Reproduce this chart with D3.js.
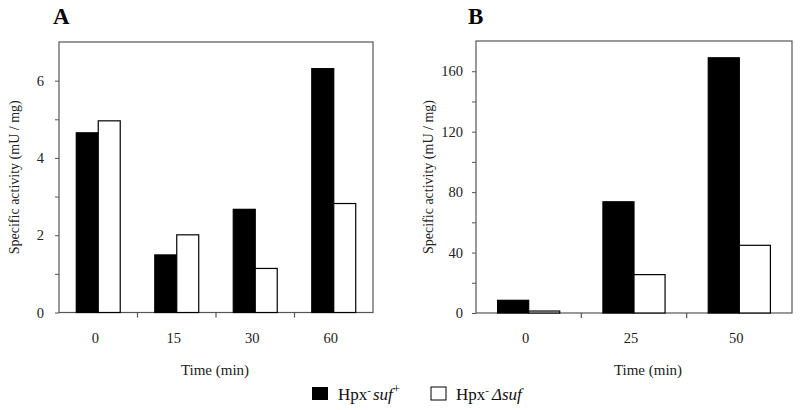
<!DOCTYPE html>
<html><head><meta charset="utf-8">
<script src="https://cdn.jsdelivr.net/npm/d3@7/dist/d3.min.js"></script>
<style>
body{margin:0;background:#fff;}
svg{display:block;font-family:"Liberation Serif","Times New Roman",serif;}
</style></head><body>
<svg id="chart" width="800" height="410"></svg>
<script>
// ---- data ----
const timesA = ["0", "15", "30", "60"];
const sufPlusA = [4.65, 1.49, 2.67, 6.31];
const deltaSufA = [4.96, 2.01, 1.14, 2.82];
const yMajorA = [0, 2, 4, 6];
const yMinorA = [1, 3, 5];

const timesB = ["0", "25", "50"];
const sufPlusB = [8.4, 73.6, 168.9];
const deltaSufB = [1.3, 25.4, 44.8];
const yMajorB = [0, 40, 80, 120, 160];
const yMinorB = [20, 60, 100, 140];

const seriesNames = ["suf+", "Δsuf"];

const svg = d3.select("#chart");

function panel(opts) {
  const {left, right, top, bottom, cats, s1, s2, yMax, major, minor, letter, letterX, titleX, yTitleX, labelGap, barFrac} = opts;
  const g = svg.append("g");
  const x = d3.scaleBand().domain(cats).range([left, right]).paddingInner(0).paddingOuter(0);
  const y = d3.scaleLinear().domain([0, yMax]).range([bottom, top]);
  const bw = x.bandwidth() * barFrac / 2;
  const sub = d3.scaleBand().domain(seriesNames).range([0, bw * 2]);

  // frame
  g.append("rect").attr("x", left).attr("y", top).attr("width", right - left).attr("height", bottom - top)
    .attr("fill", "none").attr("stroke", "#555").attr("stroke-width", 1.2);

  // bars
  cats.forEach((c, i) => {
    const cx = x(c) + x.bandwidth() / 2 - bw;
    [[s1[i], "#000"], [s2[i], "#fff"]].forEach(([v, f], k) => {
      g.append("rect")
        .attr("x", cx + sub(seriesNames[k]))
        .attr("y", y(v))
        .attr("width", sub.bandwidth())
        .attr("height", bottom - y(v))
        .attr("fill", f).attr("stroke", "#000").attr("stroke-width", 1.2);
    });
  });

  // y axis
  const ya = g.append("g").attr("transform", `translate(${left},0)`)
    .call(d3.axisLeft(y).tickValues(major).tickSize(4).tickPadding(labelGap).tickFormat(d3.format("d")));
  ya.select(".domain").remove();
  ya.selectAll("line").attr("stroke", "#555");
  ya.selectAll("text").attr("font-size", 14.5).attr("fill", "#222").style("font-family", "Liberation Serif");
  const ym = g.append("g").attr("transform", `translate(${left},0)`)
    .call(d3.axisLeft(y).tickValues(minor).tickSize(4).tickFormat(""));
  ym.select(".domain").remove();
  ym.selectAll("line").attr("stroke", "#555");

  // x axis: ticks at internal band boundaries
  const bounds = cats.slice(1).map(c => x(c));
  g.selectAll(".xt").data(bounds).enter().append("line")
    .attr("x1", d => d).attr("x2", d => d).attr("y1", bottom).attr("y2", bottom + 5)
    .attr("stroke", "#555").attr("stroke-width", 1.2);
  g.selectAll(".xl").data(cats).enter().append("text")
    .attr("x", d => x(d) + x.bandwidth() / 2 - 3).attr("y", bottom + 30)
    .attr("text-anchor", "middle").attr("font-size", 14.5).attr("fill", "#222").text(d => d);

  // titles
  g.append("text").attr("x", titleX).attr("y", bottom + 62).attr("text-anchor", "middle")
    .attr("font-size", 15).attr("fill", "#222").text("Time (min)");
  g.append("text").attr("transform", `translate(${yTitleX},${(top + bottom) / 2}) rotate(-90)`)
    .attr("text-anchor", "middle").attr("font-size", 14).attr("fill", "#222").text("Specific activity (mU / mg)");
  g.append("text").attr("x", letterX).attr("y", 24).attr("font-size", 23).attr("font-weight", "bold").text(letter);
}

panel({left: 59, right: 373, top: 42, bottom: 312.5, cats: timesA, s1: sufPlusA, s2: deltaSufA,
  yMax: 7, major: yMajorA, minor: yMinorA, letter: "A", letterX: 53, titleX: 215, yTitleX: 19, labelGap: 11, barFrac: 0.56});
panel({left: 476, right: 792, top: 41, bottom: 313, cats: timesB, s1: sufPlusB, s2: deltaSufB,
  yMax: 180, major: yMajorB, minor: yMinorB, letter: "B", letterX: 468, titleX: 648, yTitleX: 433, labelGap: 9, barFrac: 0.59});

// legend
const lg = svg.append("g").attr("font-size", 17).attr("fill", "#111");
lg.append("rect").attr("x", 312).attr("y", 387).attr("width", 16).attr("height", 13).attr("fill", "#000");
const t1 = lg.append("text").attr("x", 338).attr("y", 400);
t1.append("tspan").text("Hpx");
t1.append("tspan").attr("dy", -6).attr("font-size", 11).text("-");
t1.append("tspan").attr("dy", 6).attr("dx", 2).attr("font-style", "italic").text("suf");
t1.append("tspan").attr("dy", -7).attr("font-size", 13).text("+");
lg.append("rect").attr("x", 431).attr("y", 387).attr("width", 15).attr("height", 13).attr("fill", "#fff").attr("stroke", "#000").attr("stroke-width", 1);
const t2 = lg.append("text").attr("x", 456).attr("y", 400);
t2.append("tspan").text("Hpx");
t2.append("tspan").attr("dy", -6).attr("font-size", 11).text("-");
t2.append("tspan").attr("dy", 6).attr("dx", 3).attr("font-style", "italic").text("Δsuf");
</script>
</body></html>
